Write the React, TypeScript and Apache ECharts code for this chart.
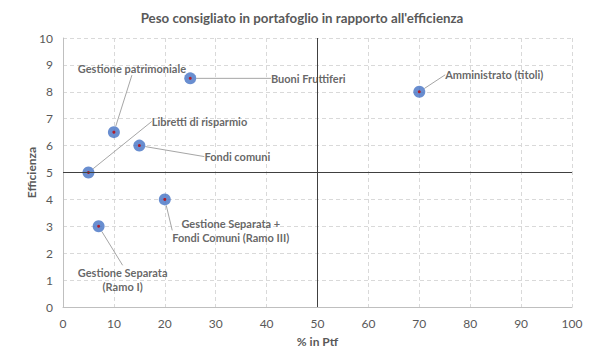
import React, { useEffect, useRef } from "react";
import * as echarts from "echarts";

const names = [
  "Gestione patrimoniale",
  "Buoni Fruttiferi",
  "Amministrato (titoli)",
  "Libretti di risparmio",
  "Fondi comuni",
  "Gestione Separata +\nFondi Comuni (Ramo III)",
  "Gestione Separata\n(Ramo I)",
];
const pctPtf = [10, 25, 70, 5, 15, 20, 7];
const efficienza = [6.5, 8.5, 8, 5, 6, 4, 3];

// label offsets (px) from each point to its label centre
const labelOffsets: [number, number][] = [
  [18, -64],
  [118, 0],
  [75, -17],
  [111, -51],
  [98, 11],
  [66, 31],
  [24, 53],
];

const FONT = "Lato";

export default function App() {
  const ref = useRef<HTMLDivElement>(null);
  useEffect(() => {
    const chart = echarts.init(ref.current!, null, { renderer: "svg" });
    const data = names.map((n, i) => ({ name: n, value: [pctPtf[i], efficienza[i]] }));
    chart.setOption({
      animation: false,
      textStyle: { fontFamily: FONT },
      title: {
        text: "Peso consigliato in portafoglio in rapporto all'efficienza",
        left: "center",
        top: 6,
        textStyle: { fontFamily: FONT, fontSize: 13.3, fontWeight: "bold", color: "#595959" },
      },
      grid: { left: 63, right: 32, top: 38, bottom: 51 },
      xAxis: {
        type: "value",
        min: 0,
        max: 100,
        interval: 10,
        name: "% in Ptf",
        nameLocation: "middle",
        nameGap: 28,
        nameTextStyle: { fontFamily: FONT, fontSize: 12, fontWeight: "bold", color: "#595959" },
        axisLine: { show: true, lineStyle: { color: "#bfbfbf" } },
        axisTick: { show: false },
        axisLabel: { fontFamily: FONT, fontSize: 12, color: "#595959", margin: 10 },
        splitLine: { show: true, lineStyle: { color: "#d9d9d9", type: [4, 3] } },
      },
      yAxis: {
        type: "value",
        min: 0,
        max: 10,
        interval: 1,
        name: "Efficienza",
        nameLocation: "middle",
        nameGap: 32,
        nameMoveOverlap: false,
        nameRotate: 90,
        nameTextStyle: {
          fontFamily: FONT,
          fontSize: 12,
          fontWeight: "bold",
          color: "#595959",
          verticalAlign: "middle",
        },
        axisLine: { show: true, lineStyle: { color: "#bfbfbf" } },
        axisTick: { show: false },
        axisLabel: { fontFamily: FONT, fontSize: 12, color: "#595959", margin: 10 },
        splitLine: { show: true, lineStyle: { color: "#d9d9d9", type: [4, 3] } },
      },
      series: [
        {
          type: "scatter",
          data,
          symbolSize: 12,
          itemStyle: { color: "#4472C4" },
          label: {
            show: true,
            position: "inside",
            formatter: "{b}",
            fontFamily: FONT,
            fontSize: 11,
            fontWeight: "bold",
            color: "#404040",
            align: "center",
            lineHeight: 14,
          },
          labelLine: { show: true, lineStyle: { color: "#a6a6a6", width: 1 } },
          labelLayout: (p: any) => ({
            dx: labelOffsets[p.dataIndex][0],
            dy: labelOffsets[p.dataIndex][1],
          }),
          markLine: {
            silent: true,
            symbol: "none",
            label: { show: false },
            lineStyle: { color: "#404040", width: 1, type: "solid" },
            data: [{ xAxis: 50 }, { yAxis: 5 }],
          },
          z: 3,
        },
        {
          type: "scatter",
          data,
          symbolSize: 3,
          itemStyle: { color: "#c00000" },
          silent: true,
          z: 4,
        },
      ],
    });
    return () => chart.dispose();
  }, []);
  return (
    <div
      ref={ref}
      style={{ position: "fixed", left: 0, top: 0, width: 604, height: 358, background: "#fff" }}
    />
  );
}
